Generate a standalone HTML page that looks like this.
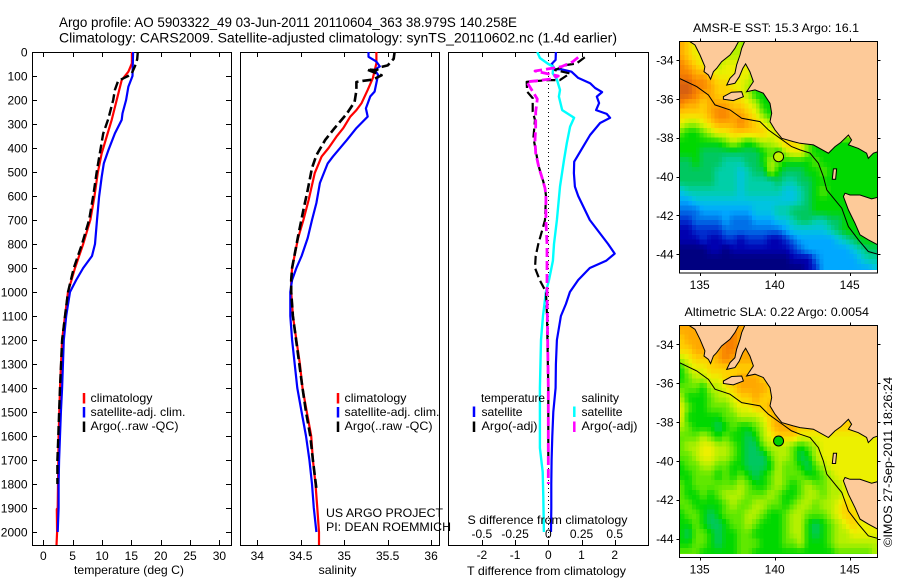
<!DOCTYPE html>
<html lang="en">
<head>
<meta charset="utf-8">
<title>Argo profile 5903322_49</title>
<style>
html,body{margin:0;padding:0;background:#fff;width:900px;height:580px;overflow:hidden}
svg{display:block}
text{font-family:"Liberation Sans",sans-serif;font-size:12px;fill:#000}
</style>
</head>
<body>
<svg id="fig" xmlns="http://www.w3.org/2000/svg" width="900" height="580" viewBox="0 0 900 580">
<defs>
<clipPath id="clipP1"><rect x="32" y="52" width="199" height="493"/></clipPath>
<clipPath id="clipP2"><rect x="240" y="52" width="199" height="493"/></clipPath>
<clipPath id="clipP3"><rect x="448" y="52" width="200" height="493"/></clipPath>
<clipPath id="clipM1"><rect x="679.5" y="41.5" width="198" height="228.5"/></clipPath>
<clipPath id="clipM2"><rect x="679.5" y="325.5" width="198" height="228.5"/></clipPath>
</defs>
<text x="59" y="27" style="font-size:14px" textLength="458" lengthAdjust="spacingAndGlyphs">Argo profile: AO 5903322_49 03-Jun-2011 20110604_363 38.979S 140.258E</text>
<text x="59" y="42.5" style="font-size:14px" textLength="558" lengthAdjust="spacingAndGlyphs">Climatology: CARS2009. Satellite-adjusted climatology: synTS_20110602.nc (1.4d earlier)</text>
<g id="panels"></g>
<g id="maps"></g>
<g>
<text x="74" y="574" textLength="110" lengthAdjust="spacingAndGlyphs">temperature (deg C)</text>
<text x="318.5" y="574" textLength="38" lengthAdjust="spacingAndGlyphs">salinity</text>
<text x="467" y="575" textLength="159" lengthAdjust="spacingAndGlyphs">T difference from climatology</text>
<text x="467.5" y="524" textLength="160" lengthAdjust="spacingAndGlyphs">S difference from climatology</text>
<text x="90.5" y="402" textLength="62" lengthAdjust="spacingAndGlyphs">climatology</text>
<text x="90.5" y="416" textLength="95" lengthAdjust="spacingAndGlyphs">satellite-adj. clim.</text>
<text x="90.5" y="430" textLength="88" lengthAdjust="spacingAndGlyphs">Argo(..raw -QC)</text>
<text x="344.5" y="402" textLength="62" lengthAdjust="spacingAndGlyphs">climatology</text>
<text x="344.5" y="416" textLength="95" lengthAdjust="spacingAndGlyphs">satellite-adj. clim.</text>
<text x="344.5" y="430" textLength="88" lengthAdjust="spacingAndGlyphs">Argo(..raw -QC)</text>
<text x="326" y="517" textLength="117" lengthAdjust="spacingAndGlyphs">US ARGO PROJECT</text>
<text x="326" y="531" textLength="125" lengthAdjust="spacingAndGlyphs">PI: DEAN ROEMMICH</text>
<text x="481" y="402" textLength="64" lengthAdjust="spacingAndGlyphs">temperature</text>
<text x="481.5" y="416" textLength="41" lengthAdjust="spacingAndGlyphs">satellite</text>
<text x="481.5" y="430" textLength="56" lengthAdjust="spacingAndGlyphs">Argo(-adj)</text>
<text x="581.5" y="402" textLength="37.5" lengthAdjust="spacingAndGlyphs">salinity</text>
<text x="581.5" y="416" textLength="41" lengthAdjust="spacingAndGlyphs">satellite</text>
<text x="581.5" y="430" textLength="56" lengthAdjust="spacingAndGlyphs">Argo(-adj)</text>
<text x="693" y="32" textLength="166" lengthAdjust="spacingAndGlyphs">AMSR-E SST: 15.3 Argo: 16.1</text>
<text x="684.5" y="316" textLength="184.5" lengthAdjust="spacingAndGlyphs">Altimetric SLA: 0.22 Argo: 0.0054</text>
<text transform="translate(892 547) rotate(-90)" textLength="170" lengthAdjust="spacingAndGlyphs">©IMOS 27-Sep-2011 18:26:24</text>
</g>
</svg>
<script>
// ---------- profile data: depth (m) and value ----------
const depthTicks = [0,100,200,300,400,500,600,700,800,900,1000,1100,1200,1300,1400,1500,1600,1700,1800,1900,2000];
const tempTicks = [0,5,10,15,20,25,30];
const salTicks = [34,34.5,35,35.5,36];
const salTickLabels = ['34','34.5','35','35.5','36'];
const tDiffTicks = [-2,-1,0,1,2];
const sDiffTickLabels = ['-0.5','-0.25','0','0.25','0.5'];
const sDiffTicks = [-0.5,-0.25,0,0.25,0.5];

const tempClimDepth = [0,47,82,117,200,283,352,422,505,603,700,800,900,1000,1100,1200,1400,1600,1800,1900,1905,2000,2055];
const tempClimValue = [15.1,15.1,14.5,13.35,12.5,11.65,10.8,9.95,9.27,8.7,8,6.8,5.4,4.2,3.7,3.2,2.85,2.6,2.5,2.45,2.3,2.35,2.25];
const tempSatDepth = [0,100,144,200,256,283,339,408,464,520,603,700,800,850,900,950,1000,1100,1200,1400,1500,1600,1700,1800,1900,2000];
const tempSatValue = [15.3,15.2,14.5,14.1,13.5,13.35,12.2,11.1,10.3,9.95,9.5,9.15,8.8,8.3,6.8,5.6,4.55,3.9,3.5,3.2,3,2.85,2.7,2.6,2.6,2.45];
const tempArgoDepth = [0,30,60,90,100,121,158,200,280,340,420,500,600,700,800,900,1000,1100,1200,1400,1500,1600,1700,1800];
const tempArgoValue = [16.1,16,15.6,15.05,14.45,12.75,12.2,11.9,11.05,10.2,9.65,9.1,8.5,7.8,6.6,5.2,4.2,3.7,3.2,2.85,2.7,2.55,2.4,2.4];

const salClimDepth = [0,47,108,158,213,242,269,317,353,400,436,505,617,700,775,900,950,1000,1100,1200,1300,1400,1500,1600,1700,1800,1900,2000,2055];
const salClimValue = [35.37,35.37,35.33,35.27,35.2,35.14,35.07,34.99,34.91,34.82,34.74,34.66,34.59,34.53,34.47,34.4,34.39,34.39,34.41,34.45,34.49,34.52,34.57,34.62,34.64,34.67,34.69,34.71,34.71];
const salSatDepth = [0,20,40,60,75,95,165,185,235,269,317,367,436,464,546,629,700,775,850,900,950,1000,1100,1200,1300,1400,1500,1600,1700,1800,1900,2000];
const salSatValue = [35.28,35.28,35.37,35.41,35.35,35.39,35.35,35.3,35.25,35.27,35.14,35.03,34.87,34.81,34.72,34.68,34.63,34.58,34.51,34.45,34.4,34.38,34.38,34.4,34.43,34.46,34.51,34.56,34.6,34.63,34.65,34.68];
const salArgoDepth = [0,28,56,62,76,73,97,115,120,125,160,208,257,317,367,430,483,575,658,767,900,950,1000,1100,1400,1500,1600,1700,1820];
const salArgoValue = [35.58,35.57,35.5,35.43,35.37,35.26,35.43,35.33,35.22,35.14,35.14,35.12,35.03,34.89,34.78,34.68,34.63,34.58,34.53,34.47,34.4,34.39,34.39,34.41,34.52,34.56,34.61,34.64,34.68];

const dtSatDepth = [0,33,50,72,72,82,108,130,150,167,186,213,242,258,274,296,346,394,457,505,561,600,700,800,840,870,900,950,1000,1050,1100,1200,1300,1400,1500,1600,1700,1800,1900,2000];
const dtSatValue = [0.23,0.22,0.1,0.2,0.4,0.7,0.9,1.26,1.41,1.62,1.46,1.53,1.44,1.76,1.86,1.56,1.26,1.05,0.78,0.77,0.8,0.9,1.25,1.8,2,1.74,1.25,0.9,0.65,0.53,0.38,0.26,0.23,0.22,0.15,0.12,0.1,0.09,0.09,0.08];
const dsSatDepth = [0,25,50,61,89,112,158,186,242,274,311,380,450,561,700,800,870,950,1000,1100,1200,1400,1500,1650,1750,1850,2000];
const dsSatValue = [-0.083,-0.063,0,0.038,0.033,0.063,0.088,0.08,0.105,0.194,0.164,0.139,0.118,0.088,0.065,0.043,0.035,0.005,-0.018,-0.04,-0.055,-0.063,-0.063,-0.063,-0.042,-0.038,-0.033];
const dtArgoDepth = [22,48,54,75,89,117,117,124,165,192,249,283,358,408,471,540,567,600,700,750,800,850,900,950,1000,1100,1400,1700];
const dtArgoValue = [1.1,0.85,0.55,0.2,0.65,0.35,-0.01,-0.65,-0.64,-0.47,-0.47,-0.4,-0.45,-0.38,-0.3,-0.15,-0.1,-0.07,-0.1,-0.2,-0.3,-0.38,-0.4,-0.26,-0.07,-0.04,0,0];
const dsArgoDepth = [22,40,61,67,79,100,112,120,124,158,196,249,311,367,422,483,519,567,600,700,800,900,1000,1400,1600,1800];
const dsArgoValue = [0.225,0.185,0.1,0.035,-0.1,0.075,0.025,-0.088,-0.163,-0.125,-0.083,-0.095,-0.095,-0.1,-0.095,-0.07,-0.05,-0.025,-0.018,-0.018,-0.01,-0.01,-0.01,0,0,0];

// ---------- map data: gridded colour levels at 0.5 deg, north to south, west to east ----------
const mapLonTicks = [135,140,145];
const mapLatTicks = [-34,-36,-38,-40,-42,-44];
const gridFirstLon = 133.75;
const gridFirstLat = -33.25;
const gridStep = 0.5;
const sstLevels = [
[13,12,11,11,10,10,10,10,10,9,8],
[13,12,11,11,10,10,10,10,10,10,8],
[14,13,12,11,11,10,11,11,11,11,8],
[14,14,13,13,12,11,11,11,11,11,9],
[15,15,14,14,13,12,12,11,11,10,9],
[15,15,14,13,13,12,12,12,11,10,8,8,8],
[14,13,13,12,13,13,13,12,12,11,10,8,8],
[12,12,12,12,13,14,14,13,13,12,11,9,8],
[11,10,10,11,12,13,13,13,14,13,12,11,10,10],
[9,8,8,9,10,11,11,12,12,12,12,12,11,11,11],
[8,8,8,8,8,8,9,10,9,8,9,10,10,11,12,12,11,9,8],
[8,8,8,7,7,7,7,7,7,7,7,8,9,8,10,11,11,9,8,8,8,8,8,8,8,8,8],
[7,7,8,7,7,7,6,6,6,7,7,8,10,9,8,8,8,8,9,8,8,8,8,8,8,8,8],
[7,7,7,7,7,6,6,6,5,6,7,7,10,8,7,7,7,8,8,9,8,8,8,8,8,8,8],
[7,7,7,7,7,6,6,6,5,6,6,6,6,7,6,6,7,7,8,8,8,8,8,8,8,8,8],
[5,6,6,6,6,6,6,6,5,6,6,6,6,6,5,5,6,7,8,9,8,8,8,8,8,8,8],
[4,4,5,5,5,5,5,5,5,5,5,5,5,5,5,5,6,7,8,8,8,8,8,8,8,8,8],
[3,3,3,4,4,4,4,4,4,4,5,5,5,6,6,7,7,7,8,8,8,8,8,8,8,8,8],
[2,2,3,3,3,3,4,3,3,3,4,4,4,5,5,6,7,7,6,6,7,7,8,8,8,8,8],
[1,1,2,2,2,2,3,3,3,3,3,3,3,3,4,5,5,5,5,5,6,7,8,8,8,8,8],
[1,1,1,2,1,1,2,2,1,2,2,2,1,1,2,3,4,4,4,4,4,5,6,7,8,8,8],
[0,0,0,0,1,1,0,1,1,1,1,1,1,1,1,2,3,4,4,4,4,4,4,5,6,7,7],
[0,0,0,0,0,0,0,0,0,0,0,0,0,0,0,1,1,1,3,4,4,4,4,4,5,6,6],
[0,0,0,0,0,0,0,0,0,0,0,0,0,0,0,0,0,1,2,4,4,4,4,4,4,4,5]
];
const slaLevels = [
[13,13,13,13,13,13,14,14,13],
[12,13,13,13,13,13,14,14,13,13],
[12,12,13,13,13,13,14,14,13,13],
[10,11,12,12,12,13,14,13,13,13],
[8,10,11,11,12,12,12,12,12,12,12],
[8,9,10,10,11,11,12,12,13,13,13,12,12],
[9,9,9,8,10,10,11,12,13,13,13,13,12],
[10,8,8,8,9,10,10,11,12,12,13,12,12],
[11,9,8,8,9,9,9,10,11,11,12,12,13,13],
[11,8,8,8,8,8,9,9,10,10,10,11,12,13,12],
[10,9,8,8,8,7,8,9,8,8,9,10,12,13,13,13,12],
[9,9,9,10,9,8,9,8,8,7,8,10,11,12,12,12,11,11,11,11,11,11,11,11,11,11,11],
[9,10,10,11,11,10,10,9,8,7,7,9,10,10,10,9,8,9,10,11,11,11,11,11,11,11,11],
[9,9,10,11,11,10,10,9,8,7,7,7,9,10,10,9,7,8,10,11,11,11,11,11,11,11,11],
[8,9,9,10,10,9,9,8,8,7,7,7,8,10,9,9,8,7,9,10,11,11,11,11,11,11,11],
[8,8,9,9,9,8,9,8,9,8,7,8,9,10,9,9,9,8,8,9,10,11,11,11,11,11,11],
[9,8,9,9,9,9,9,9,10,9,8,8,9,10,9,8,9,10,9,9,10,10,11,11,11,11,11],
[9,8,8,9,8,9,10,10,10,9,9,9,10,9,8,8,9,10,10,9,10,10,11,11,11,11,11],
[9,9,8,8,8,8,9,10,9,9,10,10,9,9,8,9,10,10,9,10,10,11,12,11,11,11,11],
[8,9,9,8,7,8,9,9,9,10,10,9,8,8,9,10,10,9,9,9,10,11,12,12,11,11,11],
[8,8,9,8,7,7,8,9,9,10,9,8,8,8,9,10,10,8,7,8,9,10,11,12,11,11,11],
[8,7,9,9,8,7,8,8,9,9,8,8,8,8,9,10,10,8,7,8,9,10,10,11,11,11,11],
[8,8,9,9,8,7,8,8,9,9,9,8,8,8,9,9,10,8,8,8,9,10,10,10,10,10,10],
[9,9,9,8,8,8,8,8,9,9,8,8,8,8,8,8,8,8,8,8,8,9,9,9,9,9,10]
];
const levelColors = ['#000080','#0000b0','#0030d0','#0070e8','#00a8ff','#00c4e0','#00cfa8','#00c860','#00d800','#60e800','#b4f000','#ecf000','#ffd000','#ffa800','#f88000','#d86010'];

// geography as [lon,lat]
const coastYorke = [[134.24,-33],[134.69,-33.23],[135.02,-33.74],[135.35,-34.34],[135.29,-34.6],[135.58,-34.77],[135.73,-34.99],[135.91,-34.6],[136.13,-34.43],[136.46,-34.09],[137.02,-33.74],[137.35,-33.4],[137.58,-33.06],[137.6,-33]];
const coastMainland = [[138.02,-33],[137.8,-33.4],[137.69,-33.74],[137.46,-34.26],[137.35,-34.69],[137.02,-34.94],[136.8,-35.29],[137.35,-35.2],[137.64,-34.86],[137.87,-34.43],[138.06,-34.2],[138.35,-34.6],[138.58,-35.11],[138.13,-35.63],[138.69,-35.54],[139.24,-35.71],[139.69,-36.23],[139.8,-36.74],[139.69,-37.17],[140.02,-37.6],[140.47,-38.03],[141.24,-38.2],[141.69,-38.29],[142.58,-38.37],[143.58,-38.8],[144.02,-38.46],[144.4,-38.25],[144.91,-37.86],[145.13,-38.12],[144.91,-38.37],[145.58,-38.55],[146.13,-38.8],[146.24,-39.06],[146.58,-38.8],[146.87,-38.72],[146.87,-33]];
const coastTasmania = [[144.69,-40.86],[145.02,-40.95],[145.69,-40.95],[146.46,-41.15],[146.87,-41.07],[146.87,-43.52],[146.24,-43.26],[145.69,-43],[145.35,-42.4],[144.91,-41.72],[144.58,-41.03]];
const coastKing = [[143.91,-39.61],[144.13,-39.61],[144.06,-40.14],[143.84,-40.14]];
const coastKangaroo = [[136.58,-35.89],[137.13,-35.66],[137.8,-35.63],[137.91,-35.89],[137.24,-36.09],[136.58,-36.02]];
const shelfEdge = [[133.64,-34.94],[134.8,-35.37],[135.58,-35.8],[136.02,-36.31],[137.02,-36.57],[137.8,-37],[139.02,-37.17],[139.58,-37.6],[140.36,-38.03],[141.13,-38.46],[141.69,-38.63],[142.36,-38.8],[142.91,-39.32],[143.24,-40],[143.47,-40.69],[144.47,-41.63],[144.91,-42.58],[145.58,-43.26],[146.24,-43.86],[146.87,-44]];
const profileLon = 140.258;
const profileLat = -38.979;

// ---------- axis functions ----------
const yD = d => 52 + 0.24 * d;
const xT = v => 43.3 + 5.87 * v;
const xS = v => 257.3 + 86.9 * (v - 34);
const xDT = v => 548.3 + 33.2 * v;
const xDS = v => 548.3 + 132.8 * v;

const NS = 'http://www.w3.org/2000/svg';
function mk(parent, tag, attrs, txt) {
  const e = document.createElementNS(NS, tag);
  for (const k in attrs) e.setAttribute(k, attrs[k]);
  if (txt !== undefined) e.textContent = txt;
  parent.appendChild(e);
  return e;
}
function tag(e, name, inter) {
  
  
  return e;
}

const panels = document.getElementById('panels');

function seriesPoints(depths, values, xf) {
  return depths.map((d, i) => xf(values[i]).toFixed(1) + ',' + yD(d).toFixed(1)).join(' ');
}
function curve(g, name, clip, depths, values, xf, color, width, dash) {
  const a = { points: seriesPoints(depths, values, xf), fill: 'none', stroke: color, 'stroke-width': width, 'clip-path': 'url(#' + clip + ')', 'stroke-linejoin': 'round' };
  if (dash) a['stroke-dasharray'] = dash;
  const p = mk(g, 'polyline', a);
  
  
}
function frame(g, name, x, y, w, h) {
  const r = mk(g, 'rect', { x: x + 0.5, y: y + 0.5, width: w, height: h, fill: '#fff', stroke: '#000', 'stroke-width': 1 });
  
  
}
function xTick(g, x, top, bottom, len) {
  const px = Math.round(x) + 0.5;
  const a = mk(g, 'line', { x1: px, x2: px, y1: top, y2: top + len, stroke: '#000' });
  
  
  const b = mk(g, 'line', { x1: px, x2: px, y1: bottom, y2: bottom - len, stroke: '#000' });
  
  
}
function legendBar(g, name, x, y, color) {
  const l = mk(g, 'line', { x1: x, x2: x, y1: y, y2: y + 10.5, stroke: color, 'stroke-width': 2.5 });
  
  
}

// panel 1 -- temperature
const g1 = tag(mk(panels, 'g', {}), 'temperature-panel', false);
frame(g1, 'temperature-axes-frame', 32, 52, 199, 493);
tempTicks.forEach(v => {
  xTick(g1, xT(v), 52, 545, 5);
  const t = mk(g1, 'text', { x: xT(v), y: 560, 'text-anchor': 'middle' }, String(v));
  
  
});
depthTicks.forEach(d => {
  const py = Math.round(yD(d)) + 0.5;
  const l1 = mk(g1, 'line', { x1: 32, x2: 37, y1: py, y2: py, stroke: '#000' });
  
  
  const l2 = mk(g1, 'line', { x1: 231, x2: 226, y1: py, y2: py, stroke: '#000' });
  
  
  const t = mk(g1, 'text', { x: 27.5, y: yD(d) + 4.5, 'text-anchor': 'end' }, String(d));
  
  
});
curve(g1, 'temperature-climatology-line', 'clipP1', tempClimDepth, tempClimValue, xT, '#f00', 2.2);
curve(g1, 'temperature-satellite-line', 'clipP1', tempSatDepth, tempSatValue, xT, '#00f', 2.2);
curve(g1, 'temperature-argo-line', 'clipP1', tempArgoDepth, tempArgoValue, xT, '#000', 2.4, '9 4');
legendBar(g1, 'legend-climatology-swatch', 84, 393, '#f00');
legendBar(g1, 'legend-satellite-swatch', 84, 407, '#00f');
legendBar(g1, 'legend-argo-swatch', 84, 421.5, '#000');

// panel 2 -- salinity
const g2 = tag(mk(panels, 'g', {}), 'salinity-panel', false);
frame(g2, 'salinity-axes-frame', 240, 52, 199, 493);
salTicks.forEach((v, i) => {
  xTick(g2, xS(v), 52, 545, 5);
  const t = mk(g2, 'text', { x: xS(v), y: 560, 'text-anchor': 'middle' }, salTickLabels[i]);
  
  
});
curve(g2, 'salinity-climatology-line', 'clipP2', salClimDepth, salClimValue, xS, '#f00', 2.2);
curve(g2, 'salinity-satellite-line', 'clipP2', salSatDepth, salSatValue, xS, '#00f', 2.2);
curve(g2, 'salinity-argo-line', 'clipP2', salArgoDepth, salArgoValue, xS, '#000', 2.6, '9 4');
legendBar(g2, 'salinity-legend-climatology-swatch', 338, 393, '#f00');
legendBar(g2, 'salinity-legend-satellite-swatch', 338, 407, '#00f');
legendBar(g2, 'salinity-legend-argo-swatch', 338, 421.5, '#000');

// panel 3 -- differences
const g3 = tag(mk(panels, 'g', {}), 'difference-panel', false);
frame(g3, 'difference-axes-frame', 448, 52, 200, 493);
tDiffTicks.forEach(v => {
  xTick(g3, xDT(v), 52, 545, 5);
  const t = mk(g3, 'text', { x: xDT(v), y: 559, 'text-anchor': 'middle' }, String(v));
  
  
});
const zero = mk(g3, 'line', { x1: 548.5, x2: 548.5, y1: 52, y2: 545, stroke: '#000', 'stroke-width': 1, 'stroke-dasharray': '1 3' });


curve(g3, 't-diff-satellite-line', 'clipP3', dtSatDepth, dtSatValue, xDT, '#00f', 2.2);
curve(g3, 's-diff-satellite-line', 'clipP3', dsSatDepth, dsSatValue, xDS, '#0ff', 2.4);
curve(g3, 't-diff-argo-line', 'clipP3', dtArgoDepth, dtArgoValue, xDT, '#000', 2.2, '9 4');
curve(g3, 's-diff-argo-line', 'clipP3', dsArgoDepth, dsArgoValue, xDS, '#f0f', 2.8, '9 4');
sDiffTicks.forEach((v, i) => {
  const t = mk(g3, 'text', { x: xDS(v), y: 538, 'text-anchor': 'middle' }, sDiffTickLabels[i]);
  
  
});
legendBar(g3, 'diff-legend-t-satellite-swatch', 474, 406.5, '#00f');
legendBar(g3, 'diff-legend-t-argo-swatch', 474, 421.5, '#000');
legendBar(g3, 'diff-legend-s-satellite-swatch', 574.3, 406.5, '#0ff');
legendBar(g3, 'diff-legend-s-argo-swatch', 574.3, 421.5, '#f0f');

// ---------- maps ----------
const maps = document.getElementById('maps');
function hexToRgb(h) { return [parseInt(h.slice(1,3),16), parseInt(h.slice(3,5),16), parseInt(h.slice(5,7),16)]; }
function levelColor(v) {
  const c = Math.max(0, Math.min(levelColors.length - 1, v));
  const i = Math.min(levelColors.length - 2, Math.floor(c));
  const f = c - i, a = hexToRgb(levelColors[i]), b = hexToRgb(levelColors[i + 1]);
  return 'rgb(' + a.map((q, k) => Math.round(q + (b[k] - q) * f)).join(',') + ')';
}
function gridValue(levels, r, c) {
  const row = levels[Math.max(0, Math.min(levels.length - 1, r))];
  return row[Math.max(0, Math.min(row.length - 1, c))];
}
function sampled(levels, lon, lat) {
  const cf = (lon - gridFirstLon) / gridStep, rf = (gridFirstLat - lat) / gridStep;
  const c0 = Math.floor(cf), r0 = Math.floor(rf), u = cf - c0, w = rf - r0;
  return (gridValue(levels, r0, c0) * (1 - u) + gridValue(levels, r0, c0 + 1) * u) * (1 - w)
       + (gridValue(levels, r0 + 1, c0) * (1 - u) + gridValue(levels, r0 + 1, c0 + 1) * u) * w;
}
function drawMap(prefix, levels, top, bottom, y34, clip, markerFill) {
  const lonX = lon => 699.7 + 15 * (lon - 135);
  const latY = lat => y34 + 19.42 * (-34 - lat);
  const g = tag(mk(maps, 'g', {}), prefix + '-map', false);
  const bg = mk(g, 'rect', { x: 679.5, y: top, width: 198, height: bottom - top, fill: '#fff' });
  
  
  const cells = tag(mk(g, 'g', { 'clip-path': 'url(#' + clip + ')', 'shape-rendering': 'crispEdges' }), prefix + '-heatmap', false);
  for (let lat = -33; lat > -45; lat -= 0.25) {
    for (let lon = 133.5; lon < 147; lon += 0.25) {
      const r = mk(cells, 'rect', { x: lonX(lon).toFixed(2), y: latY(lat).toFixed(2), width: 3.9, height: 5.0, fill: levelColor(sampled(levels, lon + 0.125, lat - 0.125)) });
      
      
    }
  }
  const landClip = 'url(#' + clip + 'L)';
  const cp = mk(g, 'clipPath', { id: clip + 'L' });
  mk(cp, 'rect', { x: 679.5, y: top, width: 198, height: bottom - top });
  [['yorke-peninsula', coastYorke], ['mainland', coastMainland], ['tasmania', coastTasmania], ['king-island', coastKing], ['kangaroo-island', coastKangaroo]].forEach(item => {
    const p = mk(g, 'polygon', { points: item[1].map(q => lonX(q[0]).toFixed(1) + ',' + latY(q[1]).toFixed(1)).join(' '), fill: '#fdca99', stroke: '#000', 'stroke-width': 1, 'clip-path': landClip });
    
    
  });
  const shelf = mk(g, 'polyline', { points: shelfEdge.map(q => lonX(q[0]).toFixed(1) + ',' + latY(q[1]).toFixed(1)).join(' '), fill: 'none', stroke: '#000', 'stroke-width': 1, 'clip-path': landClip });
  
  
  const m = mk(g, 'circle', { cx: lonX(profileLon), cy: latY(profileLat), r: 5, fill: markerFill, stroke: '#000', 'stroke-width': 1 });
  
  
  const fr = mk(g, 'rect', { x: 679.5, y: top, width: 198, height: bottom - top, fill: 'none', stroke: '#000', 'stroke-width': 1 });
  
  
  mapLonTicks.forEach(v => {
    const px = Math.round(lonX(v)) + 0.5;
    const a = mk(g, 'line', { x1: px, x2: px, y1: top - 3, y2: top, stroke: '#000' });
    
    
    const b = mk(g, 'line', { x1: px, x2: px, y1: bottom, y2: bottom + 3, stroke: '#000' });
    
    
    const t = mk(g, 'text', { x: lonX(v), y: bottom + 16, 'text-anchor': 'middle' }, String(v));
    
    
  });
  mapLatTicks.forEach(v => {
    const py = Math.round(latY(v)) + 0.5;
    const a = mk(g, 'line', { x1: 676.5, x2: 679.5, y1: py, y2: py, stroke: '#000' });
    
    
    const b = mk(g, 'line', { x1: 877.5, x2: 880.5, y1: py, y2: py, stroke: '#000' });
    
    
    const t = mk(g, 'text', { x: 673.5, y: latY(v) + 4.5, 'text-anchor': 'end' }, String(v));
    
    
  });
}
drawMap('sst', sstLevels, 41.5, 273, 60, 'clipM1', '#c4f000');
drawMap('sla', slaLevels, 325.5, 557.5, 344.3, 'clipM2', '#00d000');
</script>
</body>
</html>
